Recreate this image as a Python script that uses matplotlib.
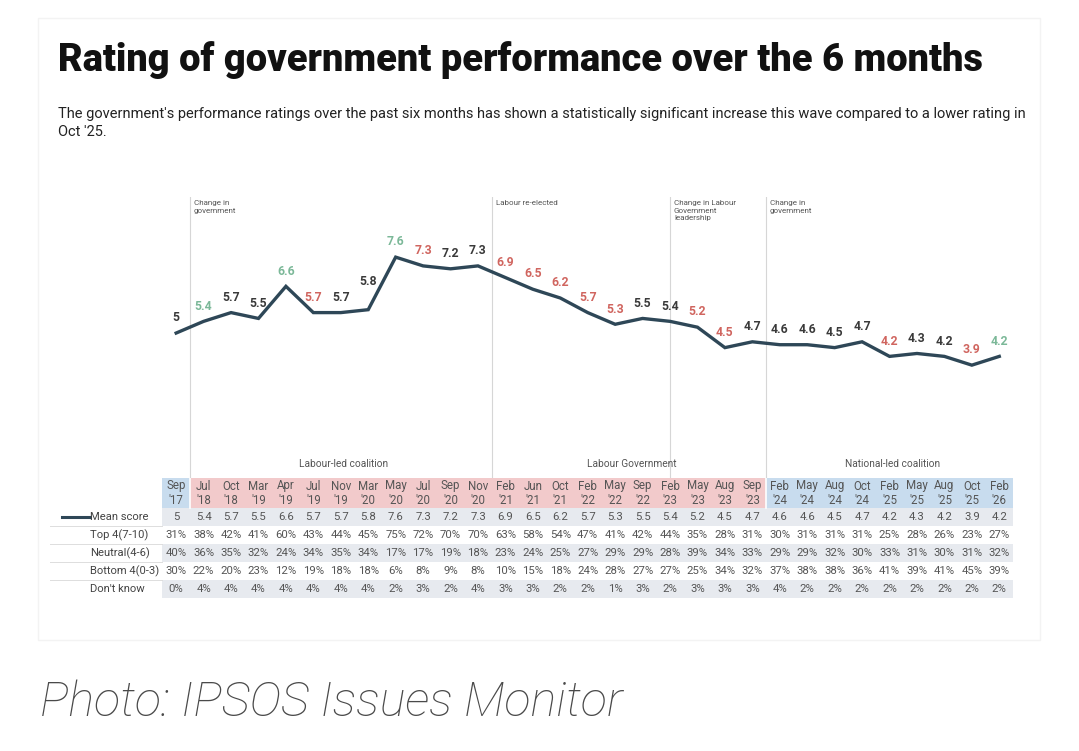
import matplotlib
matplotlib.use("Agg")
import matplotlib.pyplot as plt
from matplotlib.patches import Rectangle

plt.rcParams["font.family"] = ["Roboto", "DejaVu Sans"]

months = ["Sep", "Jul", "Oct", "Mar", "Apr", "Jul", "Nov", "Mar", "May", "Jul", "Sep", "Nov",
          "Feb", "Jun", "Oct", "Feb", "May", "Sep", "Feb", "May", "Aug", "Sep",
          "Feb", "May", "Aug", "Oct", "Feb", "May", "Aug", "Oct", "Feb"]
years = ["17", "18", "18", "19", "19", "19", "19", "20", "20", "20", "20", "20",
         "21", "21", "21", "22", "22", "22", "23", "23", "23", "23",
         "24", "24", "24", "24", "25", "25", "25", "25", "26"]
mean_score = [5, 5.4, 5.7, 5.5, 6.6, 5.7, 5.7, 5.8, 7.6, 7.3, 7.2, 7.3,
              6.9, 6.5, 6.2, 5.7, 5.3, 5.5, 5.4, 5.2, 4.5, 4.7,
              4.6, 4.6, 4.5, 4.7, 4.2, 4.3, 4.2, 3.9, 4.2]
# g = significant rise, r = significant fall, k = no change
label_tone = ["k", "g", "k", "k", "g", "r", "k", "k", "g", "r", "k", "k",
              "r", "r", "r", "r", "r", "k", "k", "r", "r", "k",
              "k", "k", "k", "k", "r", "k", "k", "r", "g"]
top4 = [31, 38, 42, 41, 60, 43, 44, 45, 75, 72, 70, 70, 63, 58, 54, 47, 41, 42, 44, 35, 28, 31,
        30, 31, 31, 31, 25, 28, 26, 23, 27]
neutral = [40, 36, 35, 32, 24, 34, 35, 34, 17, 17, 19, 18, 23, 24, 25, 27, 29, 29, 28, 39, 34, 33,
           29, 29, 32, 30, 33, 31, 30, 31, 32]
bottom4 = [30, 22, 20, 23, 12, 19, 18, 18, 6, 8, 9, 8, 10, 15, 18, 24, 28, 27, 27, 25, 34, 32,
           37, 38, 38, 36, 41, 39, 41, 45, 39]
dont_know = [0, 4, 4, 4, 4, 4, 4, 4, 2, 3, 2, 4, 3, 3, 2, 2, 1, 3, 2, 3, 3, 3,
             4, 2, 2, 2, 2, 2, 2, 2, 2]
header_party = ["nat"] + ["lab"] * 21 + ["nat"] * 9
row_names = ["Mean score", "Top 4(7-10)", "Neutral(4-6)", "Bottom 4(0-3)", "Don't know"]

events = [(0.5, "Change in\ngovernment"), (11.5, "Labour re-elected"),
          (18, "Change in Labour\nGovernment\nleadership"), (21.5, "Change in\ngovernment")]
periods = [(6.1, "Labour-led coalition"), (16.6, "Labour Government"), (26.1, "National-led coalition")]

LINE = "#2e4757"
TONES = {"g": "#7bb898", "r": "#d0655f", "k": "#3a3a3a"}
PARTY = {"lab": "#f2cacb", "nat": "#c8dcee"}
GREY_ROW = "#e7eaef"
TXT = "#555555"
# labels that sit higher to clear a steep segment (points)
extra_lift = {7: 9}

W, H = 1079, 751
fig = plt.figure(figsize=(W / 100, H / 100), dpi=100)
fig.patch.set_facecolor("white")

# faint card outline behind the chart
fig.patches.append(Rectangle((38 / W, 1 - 640 / H), 1002 / W, 622 / H, transform=fig.transFigure,
                             facecolor="none", edgecolor="#f3f3f3", lw=1, zorder=-1))

fig.text(58 / W, 1 - 60 / H, "Rating of government performance over the 6 months",
         fontsize=27.4, fontweight="heavy", color="#111111", va="center")
fig.text(58 / W, 1 - 123 / H,
         "The government's performance ratings over the past six months has shown a statistically "
         "significant increase this wave compared to a lower rating in\nOct '25.",
         fontsize=10.5, color="#222222", va="center", linespacing=1.3)
fig.text(40 / W, 1 - 703 / H, "Photo: IPSOS Issues Monitor", fontsize=35, fontstyle="italic",
         fontweight="light", color="#4a4a4a", va="center")

n = len(months)
x = list(range(n))
x_left = -0.5 - (162.3 - 50) / 27.4
ax_l, ax_w = 50 / W, 963 / W

# line chart
ax = fig.add_axes([ax_l, 1 - 479 / H, ax_w, 282 / H])
ax.set_xlim(x_left, n - 0.5)
ax.set_ylim(0, 9.66)
ax.axis("off")
ax.plot(x, mean_score, color=LINE, lw=2.4, solid_joinstyle="miter", zorder=3)
for xi, v, t in zip(x, mean_score, label_tone):
    ax.annotate(f"{v:g}", (xi, v), xytext=(0, 11 + extra_lift.get(xi, 0)), textcoords="offset points",
                ha="center", va="center", fontsize=8.8, fontweight="bold", color=TONES[t])
for ex, txt in events:
    ax.axvline(ex, color="#d6d6d6", lw=0.8, zorder=1)
    ax.text(ex + 0.14, 9.55, txt, fontsize=5.8, color="#555555", va="top", ha="left", linespacing=1.3)
for px, txt in periods:
    ax.text(px, 0.52, txt, fontsize=7.3, color=TXT, ha="center", va="center")

# table
tb = fig.add_axes([ax_l, 1 - 598 / H, ax_w, 120 / H])
tb.set_xlim(x_left, n - 0.5)
tb.set_ylim(120, 0)
tb.axis("off")
for i in range(n):
    tb.add_patch(Rectangle((i - 0.5, 0), 1, 30, facecolor=PARTY[header_party[i]], lw=0))
    if i > 0 and header_party[i] != header_party[i - 1]:
        tb.plot([i - 0.5, i - 0.5], [0, 30], color="white", lw=1.2)
    tb.text(i, 15, f"{months[i]}\n'{years[i]}", ha="center", va="center", fontsize=8.3,
            color=TXT, linespacing=1.1)

rows = [[f"{v:g}" for v in mean_score], [f"{v}%" for v in top4], [f"{v}%" for v in neutral],
        [f"{v}%" for v in bottom4], [f"{v}%" for v in dont_know]]
for r, (name, vals) in enumerate(zip(row_names, rows)):
    y0 = 30 + 18 * r
    if r % 2 == 0:
        tb.add_patch(Rectangle((-0.5, y0), n, 18, facecolor=GREY_ROW, lw=0))
    if r < len(rows) - 1:
        tb.plot([x_left, -0.5], [y0 + 18, y0 + 18], color="#dddddd", lw=0.7)
    tb.text(x_left + 40 / 27.4, y0 + 9, name, ha="left", va="center", fontsize=8.1, color="#444444")
    for i, s in enumerate(vals):
        tb.text(i, y0 + 9, s, ha="center", va="center", fontsize=8.2, color=TXT)
tb.plot([x_left + 12 / 27.4, x_left + 40 / 27.4], [39, 39], color=LINE, lw=2.2)

fig.savefig("out.png", dpi=100)
